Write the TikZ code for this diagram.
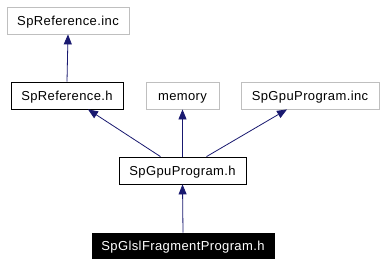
\documentclass[tikz,border=0pt]{standalone}
\usepackage{fontspec}
\setmainfont{Liberation Sans}[LetterSpace=3]
\usetikzlibrary{arrows.meta}
\definecolor{edgeblue}{RGB}{25,25,112}
\definecolor{boxgray}{RGB}{191,191,191}
\begin{document}
\begin{tikzpicture}[x=1pt,y=-1pt,
  filebox/.style={draw=#1, line width=0.8pt, minimum height=27pt, inner sep=0pt,
    text height=9pt, text depth=0pt, font=\fontsize{13}{15}\selectfont},
  dep/.style={draw=edgeblue, line width=0.8pt,
    -{Triangle[length=10pt,width=8pt,fill=edgeblue]}}]
  \useasboundingbox[fill=white] (0,0) rectangle (384,266);

  % header boxes
  \node[filebox=boxgray, minimum width=122pt] (refinc) at (68,20.5) {SpReference.inc};
  \node[filebox=black,   minimum width=112pt] (refh)   at (67,95.5) {SpReference.h};
  \node[filebox=boxgray, minimum width=73pt]  (mem)    at (182.5,95.5) {memory};
  \node[filebox=boxgray, minimum width=138pt] (gpuinc) at (310,95.5) {SpGpuProgram.inc};
  \node[filebox=black,   minimum width=127pt] (gpuh)   at (182.5,170.5) {SpGpuProgram.h};
  \node[filebox=black, fill=black, text=white, minimum width=182pt, minimum height=25pt]
    (glsl) at (183,245.5) {SpGlslFragmentProgram.h};

  % include dependencies
  \draw[dep] (refh.north) -- (refinc.south);
  \draw[dep] ([xshift=-22pt]gpuh.north) -- ([xshift=21pt]refh.south);
  \draw[dep] (gpuh.north) -- (mem.south);
  \draw[dep] ([xshift=24pt]gpuh.north) -- ([xshift=-23pt]gpuinc.south);
  \draw[dep] (glsl.north) -- (gpuh.south);
\end{tikzpicture}
\end{document}
